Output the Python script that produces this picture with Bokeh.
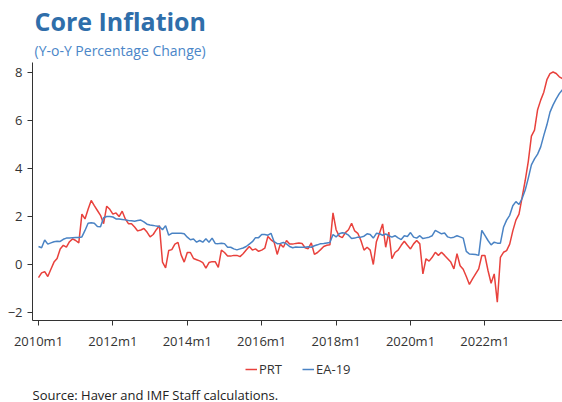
from bokeh.plotting import figure
from bokeh.layouts import column
from bokeh.models import (Range1d, FixedTicker, Legend, LegendItem, ColumnDataSource,
                          Title, Label)
from bokeh.embed import file_html
from bokeh.resources import INLINE

# Monthly data, starting 2010m1
prt = [
    -0.55, -0.35, -0.3, -0.5, -0.2, 0.1, 0.25, 0.65, 0.8, 0.72, 0.95, 1.07,
    1.0, 0.9, 2.1, 1.9, 2.3, 2.67, 2.45, 2.25, 2.05, 1.7, 2.43, 2.3,
    2.1, 2.15, 2.0, 2.22, 1.9, 1.7, 1.7, 1.56, 1.4, 1.44, 1.5, 1.35,
    1.15, 1.25, 1.45, 1.62, 0.1, -0.14, 0.58, 0.62, 0.85, 0.92, 0.4, 0.1,
    0.5, 0.5, 0.25, 0.2, 0.15, 0.08, -0.15, 0.08, 0.12, 0.12, -0.12, 0.6,
    0.5, 0.35, 0.35, 0.38, 0.38, 0.33, 0.45, 0.6, 0.75, 0.6, 0.65, 0.55,
    0.6, 0.68, 1.17, 1.03, 0.93, 0.42, 0.85, 0.72, 1.0, 0.85, 0.85, 0.88,
    0.9, 0.88, 0.7, 0.66, 0.9, 0.42, 0.5, 0.62, 0.75, 0.8, 0.82, 2.15,
    1.45, 1.18, 1.12, 1.33, 1.45, 1.72, 1.4, 1.3, 1.0, 0.6, 0.72, 0.6,
    0.0, 0.95, 1.3, 1.69, 0.72, 1.35, 0.24, 0.5, 0.6, 0.8, 0.97, 0.8,
    0.65, 0.86, 1.0, 0.86, -0.39, 0.24, 0.14, 0.3, 0.51, 0.38, 0.51, 0.38,
    0.24, 0.1, -0.18, 0.45, -0.05, -0.2, -0.5, -0.83, -0.6, -0.39, -0.18, 0.375,
    0.375, -0.25, -0.78, -0.39, -1.57, 0.3, 0.51, 0.58, 0.85, 1.4, 1.85, 2.1,
    2.8, 3.5, 4.3, 5.35, 5.6, 6.45, 6.85, 7.18, 7.7, 7.95, 8.02, 7.96,
    7.82, 7.75,
]
ea19 = [
    0.75, 0.7, 1.02, 0.85, 0.9, 0.95, 0.97, 0.96, 1.05, 1.1, 1.1, 1.12,
    1.13, 1.13, 1.15, 1.42, 1.72, 1.74, 1.72, 1.58, 1.57, 1.95, 2.0, 2.0,
    1.98, 1.9, 1.9, 1.88, 1.86, 1.83, 1.82, 1.8, 1.83, 1.85, 1.78, 1.68,
    1.65, 1.63, 1.6, 1.58, 1.45, 1.62, 1.22, 1.3, 1.3, 1.3, 1.3, 1.28,
    1.14, 1.03, 1.06, 0.93, 1.0, 0.93, 1.07, 0.93, 1.1, 0.88, 0.87, 0.89,
    0.87, 0.72, 0.72, 0.65, 0.61, 0.65, 0.69, 0.75, 0.85, 0.95, 1.12, 1.12,
    1.25, 1.25, 1.22, 1.3, 0.95, 0.87, 0.88, 0.92, 0.86, 0.75, 0.7, 0.73,
    0.72, 0.72, 0.72, 0.74, 0.72, 0.78, 0.82, 0.87, 0.88, 0.9, 0.92, 1.25,
    1.15, 1.28, 1.32, 1.3, 1.22, 1.08, 1.1, 1.14, 1.14, 1.18, 1.28, 1.25,
    1.1, 1.3, 1.28, 1.22, 1.27, 1.2, 1.14, 1.2, 1.11, 1.04, 1.2, 1.17,
    1.33, 1.14, 1.1, 1.2, 1.08, 1.11, 1.14, 1.2, 1.42, 1.35, 1.28, 1.31,
    1.15, 1.11, 1.14, 1.2, 1.15, 1.1, 0.55, 0.44, 0.43, 0.42, 0.38, 1.42,
    1.21, 1.0, 0.82, 0.93, 0.89, 0.89, 1.55, 1.85, 2.05, 2.45, 2.62, 2.5,
    2.75, 3.1, 3.6, 4.15, 4.4, 4.6, 4.9, 5.38, 5.82, 6.35, 6.65, 6.9,
    7.12, 7.28,
]
months = list(range(len(prt)))
tick_positions = [0, 24, 48, 72, 96, 120, 144]
tick_labels = ["2010m1", "2012m1", "2014m1", "2016m1", "2018m1", "2020m1", "2022m1"]
y_ticks = [-2, 0, 2, 4, 6, 8]
series_names = ["PRT", "EA-19"]

FONT = "Open Sans"
RED = "#E8413C"
BLUE = "#4A83C4"
AXIS = "#333333"

src = ColumnDataSource(dict(m=months, prt=prt, ea=ea19))

# ---- main chart ----
p = figure(width=562, height=355, output_backend="svg", toolbar_location=None,
           x_range=Range1d(-1.935, 169.03), y_range=Range1d(-2.333, 8.417),
           min_border_left=32, min_border_right=0, min_border_top=62,
           min_border_bottom=35)
p.outline_line_color = None
p.grid.visible = False
p.background_fill_color = "white"
p.border_fill_color = "white"

p.line("m", "prt", source=src, line_color=RED, line_width=1.5)
p.line("m", "ea", source=src, line_color=BLUE, line_width=1.5)

for ax in (p.xaxis[0], p.yaxis[0]):
    ax.axis_line_color = AXIS
    ax.major_tick_line_color = AXIS
    ax.major_tick_out = 5
    ax.major_tick_in = 0
    ax.minor_tick_line_color = None
    ax.major_label_text_font = FONT
    ax.major_label_text_font_size = "13px"
    ax.major_label_text_color = AXIS

p.xaxis.major_label_standoff = 6
p.yaxis.major_label_standoff = 5
p.xaxis.ticker = FixedTicker(ticks=tick_positions)
p.xaxis.major_label_overrides = {t: l for t, l in zip(tick_positions, tick_labels)}
p.yaxis.ticker = FixedTicker(ticks=y_ticks)

# titles above (first added sits closest to the frame)
p.add_layout(Title(text="(Y-o-Y Percentage Change)", align="left", offset=2,
                   text_font=FONT, text_font_size="14px", text_font_style="normal",
                   text_color="#4A86C8", standoff=5), "above")
p.add_layout(Title(text="Core Inflation", align="left", offset=2,
                   text_font=FONT, text_font_size="25px", text_font_style="bold",
                   text_color="#2F6EAA", standoff=-2), "above")

# ---- legend + source strip (no axes; its view range shows none of the data) ----
# (in the column its frame lines up with the main frame, which starts at x=32)
p2 = figure(width=562, height=47, output_backend="svg", toolbar_location=None,
            x_range=Range1d(-3, -2), y_range=Range1d(0, 1),
            x_axis_location=None, y_axis_location=None,
            min_border_left=0, min_border_right=0, min_border_top=0,
            min_border_bottom=0)
p2.grid.visible = False
p2.outline_line_color = None
p2.background_fill_color = "white"
p2.border_fill_color = "white"

k1 = p2.line("m", "prt", source=src, line_color=RED, line_width=1.5)
k2 = p2.line("m", "ea", source=src, line_color=BLUE, line_width=1.5)

legend = Legend(items=[LegendItem(label=series_names[0], renderers=[k1]),
                       LegendItem(label=series_names[1], renderers=[k2])],
                orientation="horizontal", location=(213, 24), padding=0,
                spacing=20, glyph_width=12, glyph_height=16, label_standoff=2,
                label_height=16, label_text_font=FONT, label_text_font_size="13px",
                label_text_color=AXIS, border_line_color=None,
                background_fill_alpha=0, margin=0)
p2.add_layout(legend)

p2.add_layout(Label(x=0, y=8, x_units="screen", y_units="screen",
                    text="Source: Haver and IMF Staff calculations.", text_font=FONT,
                    text_font_size="13px", text_color="#222222",
                    text_baseline="alphabetic"))

open("out.html", "w").write(file_html(column(p, p2, spacing=0), INLINE))
